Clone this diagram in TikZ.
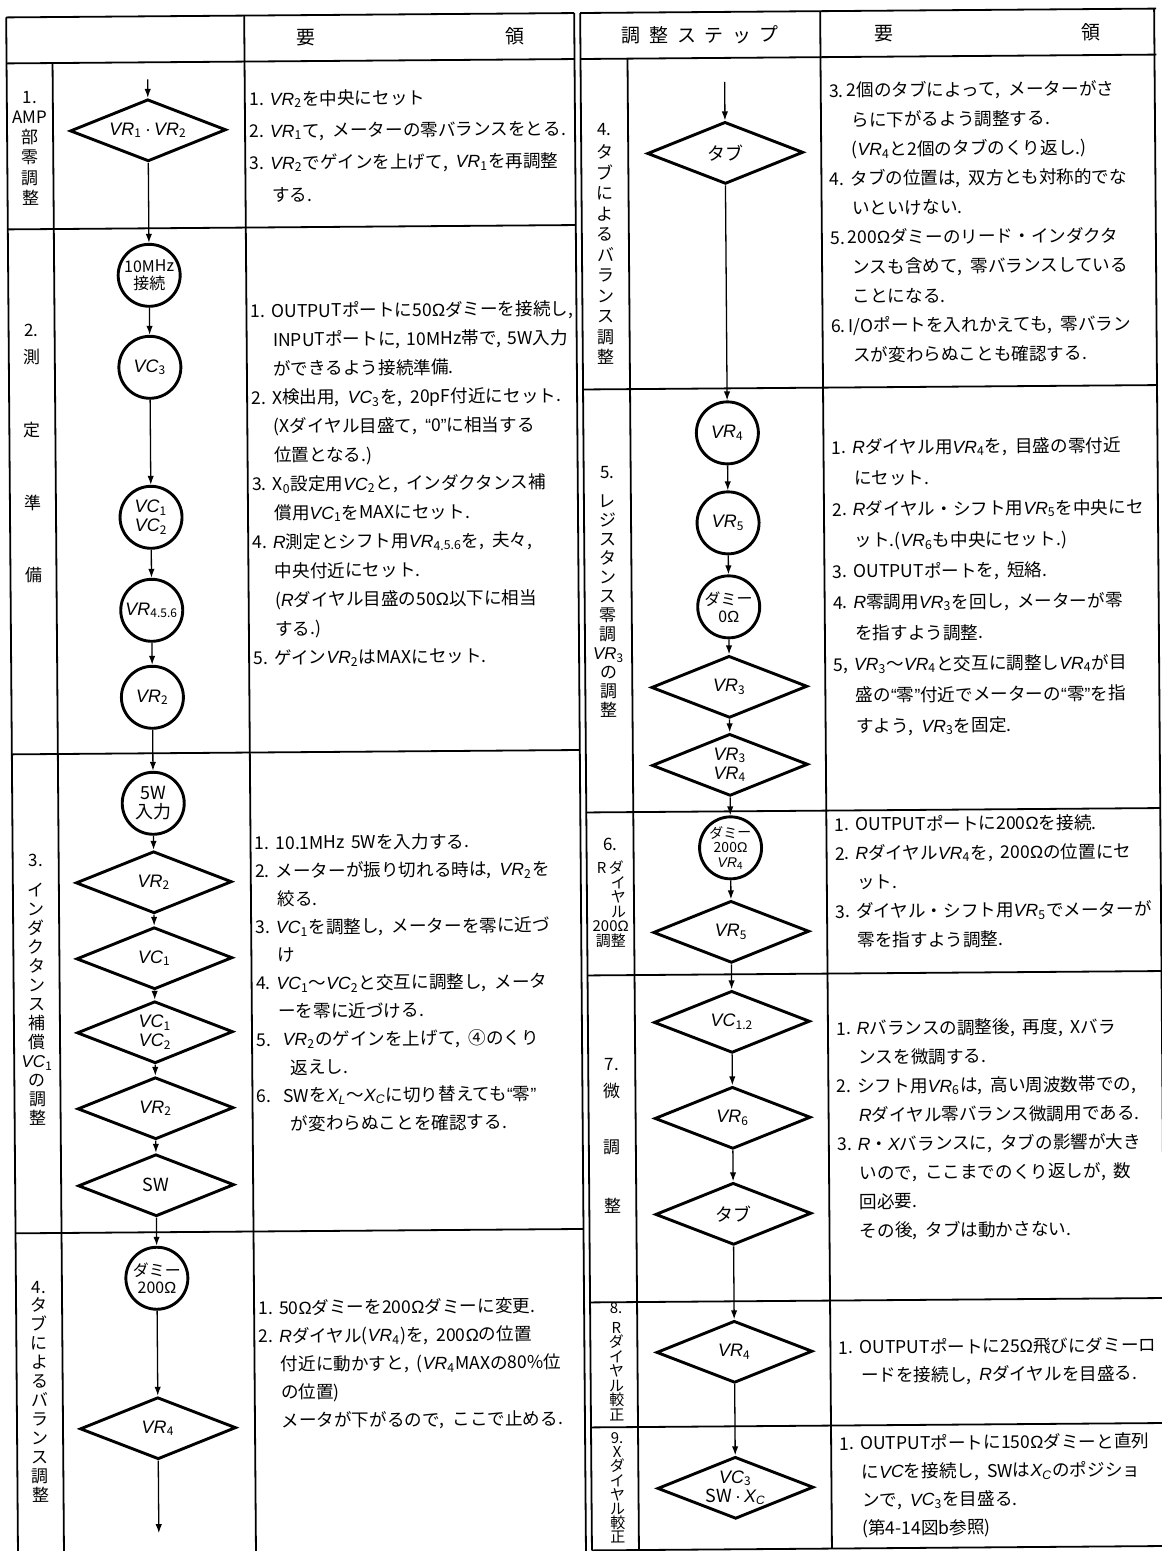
\documentclass[tikz,border=0pt]{standalone}
\usepackage{fontspec}
\setmainfont{Noto Sans CJK JP}
\newfontfamily\lat{Liberation Sans}
\usetikzlibrary{shapes.geometric,arrows.meta}
\frenchspacing
\newcommand{\ita}[1]{{\lat\itshape #1}}
\newcommand{\VR}[1]{\ita{VR}\textsubscript{#1}}
\newcommand{\VC}[1]{\ita{VC}\textsubscript{#1}}
\newcommand{\OM}{{\lat Ω}}
\newcommand{\qo}{{\lat “}}
\newcommand{\qc}{{\lat ”}}
\newcommand{\cma}{,\hspace{0.45em}}
\newcommand{\indt}{\hspace*{11pt}}
\newcommand{\mdot}{{\lat\,·\,}}
\newcommand{\tfs}[1]{\fontsize{8.8pt}{#1}\selectfont}
\begin{document}
\begin{tikzpicture}[x=0.5pt,y=-0.5pt,
  tl/.style={line width=0.9pt},
  conn/.style={line width=0.65pt,-{Latex[length=4.5pt,width=3.2pt]}},
  circ/.style={circle,draw,line width=1.45pt,minimum size=31pt,inner sep=0pt,align=center,font=\fontsize{9pt}{9.5pt}\selectfont},
  dia/.style={diamond,draw,line width=1.45pt,minimum width=78pt,minimum height=31pt,aspect=2.5,inner sep=0pt,align=center,font=\fontsize{9pt}{9.5pt}\selectfont},
  txt/.style={anchor=base west,text width=185pt,align=left,inner sep=0pt},
  lab/.style={anchor=base,text width=22pt,align=center,inner sep=0pt},
  hdr/.style={inner sep=0pt,font=\fontsize{9.5pt}{10pt}\selectfont}]
\fill[white] (0,0) rectangle (1161,1551);
\useasboundingbox (0,0) rectangle (1161,1551);
\begin{scope}[rotate around={0.44:(580,775)},transform shape]
% ---------- table lines: left ----------
\draw[tl] (12,13) -- (580,13);
\draw[tl] (12,59) -- (580,59);
\draw[tl] (12,13) -- (12,1565);
\draw[tl] (58,59) -- (58,1565);
\draw[tl] (250,13) -- (250,1565);
\draw[tl] (580,13) -- (580,1565);
\draw[tl] (12,225) -- (580,225);
\draw[tl] (12,750) -- (580,750);
\draw[tl] (12,1229) -- (580,1229);
% ---------- table lines: right ----------
\draw[tl] (586,13) -- (1162,13);
\draw[tl] (586,59) -- (1162,59);
\draw[tl] (586,13) -- (586,1550.5);
\draw[tl] (633,59) -- (633,1550.5);
\draw[tl] (826,13) -- (826,1550.5);
\draw[tl] (1160,13) -- (1160,1550.5);
\draw[tl] (586,389.5) -- (1160,389.5);
\draw[tl] (586,812.5) -- (1160,812.5);
\draw[tl] (586,975.5) -- (1160,975.5);
\draw[tl] (586,1302.5) -- (1160,1302.5);
\draw[tl] (586,1427.5) -- (1160,1427.5);
\draw[tl] (586,1550.5) -- (1160,1550.5);
% ---------- headers ----------
\node[hdr] (h1) at (312,36) {要};
\node[hdr] (h2) at (521,36) {領};
\node[hdr] (h3) at (706,36) {調\hspace{4.3pt}整\hspace{4.3pt}ス\hspace{4.3pt}テ\hspace{4.3pt}ッ\hspace{4.3pt}プ};
\node[hdr] (h4) at (890,36) {要};
\node[hdr] (h5) at (1097,36) {領};
% ---------- left flow ----------
\coordinate (a0) at (153,76);
\node[dia] (d1) at (153,127) {\VR{1}\mdot\VR{2}};
\node[circ,font=\fontsize{8pt}{8.5pt}\selectfont] (c1) at (153,272) {10MHz\\接続};
\node[circ] (c2) at (153,364) {\VC{3}};
\node[circ] (c3) at (153,514) {\VC{1}\\\VC{2}};
\node[circ] (c4) at (153,607) {\VR{4.5.6}};
\node[circ] (c5) at (153,694) {\VR{2}};
\node[circ] (c6) at (153,800) {5W\\入力};
\node[dia] (d2) at (153,879) {\VR{2}};
\node[dia] (d3) at (153,955) {\VC{1}};
\node[dia] (d4) at (153,1029) {\VC{1}\\\VC{2}};
\node[dia] (d5) at (153,1105) {\VR{2}};
\node[dia] (d6) at (153,1182) {SW};
\node[circ,font=\fontsize{8pt}{8.5pt}\selectfont] (c7) at (153,1275) {ダミー\\200\OM};
\node[dia] (d7) at (153,1425) {\VR{4}};
\coordinate (a1) at (153,1530);
\draw[conn] (a0) -- (d1.north);
\draw[conn] (d1.south) -- (c1.north);
\draw[conn] (c1.south) -- (c2.north);
\draw[conn] (c2.south) -- (c3.north);
\draw[conn] (c3.south) -- (c4.north);
\draw[conn] (c4.south) -- (c5.north);
\draw[conn] (c5.south) -- (c6.north);
\draw[conn] (c6.south) -- (d2.north);
\draw[conn] (d2.south) -- (d3.north);
\draw[conn] (d3.south) -- (d4.north);
\draw[conn] (d4.south) -- (d5.north);
\draw[conn] (d5.south) -- (d6.north);
\draw[conn] (d6.south) -- (c7.north);
\draw[conn] (c7.south) -- (d7.north);
\draw[conn] (d7.south) -- (a1);
% ---------- right flow ----------
\coordinate (b0) at (730,83);
\node[dia] (e1) at (730,154) {タブ};
\node[circ] (f1) at (730,434) {\VR{4}};
\node[circ] (f2) at (730,524) {\VR{5}};
\node[circ,font=\fontsize{8pt}{8.5pt}\selectfont] (f3) at (730,608) {ダミー\\0\OM};
\node[dia] (e2) at (730,688) {\VR{3}};
\node[dia] (e3) at (730,766) {\VR{3}\\\VR{4}};
\node[circ,font=\fontsize{7pt}{7.3pt}\selectfont] (f4) at (730,849) {ダミー\\200\OM\\\VR{4}};
\node[dia] (e4) at (730,933) {\VR{5}};
\node[dia] (e5) at (730,1023) {\VC{1.2}};
\node[dia] (e6) at (730,1119) {\VR{6}};
\node[dia] (e7) at (730,1215) {タブ};
\node[dia] (e8) at (730,1353) {\VR{4}};
\node[dia] (e9) at (730,1489) {\VC{3}\\SW\mdot\ita{X}\textsubscript{\ita{C}}};
\draw[conn] (b0) -- (e1.north);
\draw[conn] (e1.south) -- (f1.north);
\draw[conn] (f1.south) -- (f2.north);
\draw[conn] (f2.south) -- (f3.north);
\draw[conn] (f3.south) -- (e2.north);
\draw[conn] (e2.south) -- (e3.north);
\draw[conn] (e3.south) -- (f4.north);
\draw[conn] (f4.south) -- (e4.north);
\draw[conn] (e4.south) -- (e5.north);
\draw[conn] (e5.south) -- (e6.north);
\draw[conn] (e6.south) -- (e7.north);
\draw[conn] (e7.south) -- (e8.north);
\draw[conn] (e8.south) -- (e9.north);
% ---------- labels ----------
\node[lab,font=\fontsize{8.5pt}{10.1pt}\selectfont] (l1) at (35,99) {1.\\AMP\\部\\零\\調\\整};
\node[lab,font=\fontsize{8.5pt}{13.5pt}\selectfont] (l2) at (35,332) {2.\\測\\[23pt]定\\[23pt]準\\[22.5pt]備};
\node[lab,font=\fontsize{8.5pt}{9.5pt}\selectfont] (l3) at (35,862) {3.\\[5.5pt]イ\\ン\\ダ\\ク\\タ\\ン\\ス\\補\\償\\\VC{1}\\の\\調\\整};
\node[lab,font=\fontsize{8.5pt}{9.5pt}\selectfont] (l4) at (35,1289) {4.\\[-0.5pt]タ\\ブ\\に\\よ\\る\\バ\\ラ\\ン\\ス\\調\\整};
\node[lab,font=\fontsize{8.5pt}{10.25pt}\selectfont] (r4l) at (609.5,136) {4.\\[1.25pt]タ\\ブ\\に\\よ\\る\\バ\\ラ\\ン\\ス\\調\\整};
\node[lab,font=\fontsize{8.5pt}{9.5pt}\selectfont] (r5l) at (609.5,479) {5.\\[5pt]レ\\ジ\\ス\\タ\\ン\\ス\\零\\調\\\VR{3}\\の\\調\\整};
\node[lab,font=\fontsize{7.5pt}{7.25pt}\selectfont] (r6l) at (609.5,851) {{\fontsize{8.5pt}{7.25pt}\selectfont 6.}\\[4.25pt]R\,ダ\\\hspace*{8pt}イ\\\hspace*{8pt}ヤ\\\hspace*{8pt}ル\\200\OM\\調整};
\node[lab,font=\fontsize{8.5pt}{13.5pt}\selectfont] (r7l) at (609.5,1071) {7.\\微\\[14.5pt]調\\[16pt]整};
\node[lab,font=\fontsize{7.5pt}{7.25pt}\selectfont] (r8l) at (612,1314) {8.\\[2.5pt]R\\ダ\\イ\\ヤ\\ル\\較\\正};
\node[lab,font=\fontsize{7.5pt}{7.05pt}\selectfont] (r9l) at (612,1444) {9.\\X\\ダ\\イ\\ヤ\\ル\\較\\正};
% ---------- text blocks: left ----------
\node[txt,font=\tfs{16pt}] (t1) at (254,103) {1. \VR{2}を中央にセット\\
2. \VR{1}て\cma メーターの零バランスをとる.\\
3. \VR{2}でゲインを上げて\cma\VR{1}を再調整\\
\indt する.};
\node[txt,font=\tfs{14.45pt}] (t2) at (254,315) {1. OUTPUTポートに50\OM ダミーを接続し,\\
\indt INPUTポートに, 10MHz帯で, 5W入力\\
\indt ができるよう接続準備.\\
2. X検出用\cma\VC{3}を\cma 20pF付近にセット.\\
\indt (Xダイヤル目盛て\cma\qo 0\qc に相当する\\
\indt 位置となる.)\\
3. X\textsubscript{0}設定用\VC{2}と\cma インダクタンス補\\
\indt 償用\VC{1}をMAXにセット.\\
4. \ita{R}測定とシフト用\VR{4.5.6}を\cma 夫々\cma\\
\indt 中央付近にセット.\\
\indt (\ita{R}ダイヤル目盛の50\OM 以下に相当\\
\indt する.)\\
5. ゲイン\VR{2}はMAXにセット.};
\node[txt,font=\tfs{14.05pt}] (t3) at (254,847) {1. 10.1MHz 5Wを入力する.\\
2. メーターが振り切れる時は\cma\VR{2}を\\
\indt 絞る.\\
3. \VC{1}を調整し\cma メーターを零に近づ\\
\indt け\\
4. \VC{1}〜\VC{2}と交互に調整し\cma メータ\\
\indt ーを零に近づける.\\
5.\ \ \VR{2}のゲインを上げて\cma ④のくり\\
\indt\ \ 返えし.\\
6.\ \ SWを\ita{X}\textsubscript{\ita{L}}〜\ita{X}\textsubscript{\ita{C}}に切り替えても\qo 零\qc\\
\indt\ \ が変わらぬことを確認する.};
\node[txt,font=\tfs{14.1pt}] (t4) at (254,1312) {1. 50\OM ダミーを200\OM ダミーに変更.\\
2. \ita{R}ダイヤル(\VR{4})を\cma 200\OM の位置\\
\indt 付近に動かすと\cma (\VR{4}MAXの80\%位\\
\indt の位置)\\
\indt メータが下がるので\cma ここで止める.};
% ---------- text blocks: right ----------
\node[txt,font=\tfs{14.7pt}] (u4) at (834,99) {3.\,2個のタブによって\cma メーターがさ\\
\indt らに下がるよう調整する.\\
\indt (\VR{4}と2個のタブのくり返し.)\\
4. タブの位置は\cma 双方とも対称的でな\\
\indt いといけない.\\
5.\,200\OM ダミーのリード・インダクタ\\
\indt ンスも含めて\cma 零バランスしている\\
\indt ことになる.\\
6.\,I/Oポートを入れかえても\cma 零バラン\\
\indt スが変わらぬことも確認する.};
\node[txt,font=\tfs{15.5pt}] (u5) at (834,456) {1. \ita{R}ダイヤル用\VR{4}を\cma 目盛の零付近\\
\indt にセット.\\
2. \ita{R}ダイヤル・シフト用\VR{5}を中央にセ\\
\indt ット.(\VR{6}も中央にセット.)\\
3. OUTPUTポートを\cma 短絡.\\
4. \ita{R}零調用\VR{3}を回し\cma メーターが零\\
\indt を指すよう調整.\\
5, \VR{3}〜\VR{4}と交互に調整し\VR{4}が目\\
\indt 盛の\qo 零\qc 付近でメーターの\qo 零\qc を指\\
\indt すよう\cma\VR{3}を固定.};
\node[txt,font=\tfs{14.5pt}] (u6) at (834,833) {1. OUTPUTポートに200\OM を接続.\\
2. \ita{R}ダイヤル\VR{4}を\cma 200\OM の位置にセ\\
\indt ット.\\
3. ダイヤル・シフト用\VR{5}でメーターが\\
\indt 零を指すよう調整.};
\node[txt,font=\tfs{14.45pt}] (u7) at (834,1037) {1. \ita{R}バランスの調整後\cma 再度\cma Xバラ\\
\indt ンスを微調する.\\
2. シフト用\VR{6}は\cma 高い周波数帯での,\\
\indt \ita{R}ダイヤル零バランス微調用である.\\
3. \ita{R}・\ita{X}バランスに\cma タブの影響が大き\\
\indt いので\cma ここまでのくり返しが\cma 数\\
\indt 回必要.\\
\indt その後\cma タブは動かさない.};
\node[txt,font=\tfs{14pt}] (u8) at (834,1356) {1. OUTPUTポートに25\OM 飛びにダミーロ\\
\indt ードを接続し\cma\ita{R}ダイヤルを目盛る.};
\node[txt,font=\tfs{14.15pt}] (u9) at (834,1452) {1. OUTPUTポートに150\OM ダミーと直列\\
\indt に\ita{VC}を接続し\cma SWは\ita{X}\textsubscript{\ita{C}}のポジショ\\
\indt ンで\cma\VC{3}を目盛る.\\
\indt (第4-14図b参照)};
\end{scope}
\end{tikzpicture}
\end{document}
